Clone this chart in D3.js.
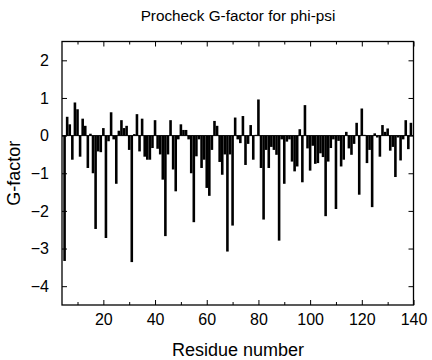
<!DOCTYPE html>
<html>
<head>
<meta charset="utf-8">
<script src="https://cdn.jsdelivr.net/npm/d3@7"></script>
<style>
  html, body { margin: 0; padding: 0; background: #fff; }
  svg { display: block; }
  text { font-family: "Liberation Sans", Arial, Helvetica, sans-serif; fill: #000; }
</style>
</head>
<body>
<svg id="chart" width="432" height="360"></svg>
<script>
// Residue numbers 5..139
const residues = d3.range(5, 140);
// G-factor values (phi-psi), residue 5 onward
const gfactor = [
  -3.33, 0.50, 0.30, -0.64, 0.88, 0.70, -0.56, 0.45, 0.26, -0.86,
  0.05, -1.00, -2.48, -0.42, -0.44, 0.20, -2.72, -0.15, 0.62, -0.10,
  -1.28, 0.13, 0.41, 0.20, 0.26, -0.38, -3.36, 0.04, 0.57, -0.42,
  0.45, -0.56, -0.64, -0.64, -0.33, 0.41, -0.35, -0.50, -1.17, -2.67,
  -0.50, 0.41, -0.90, -1.48, -0.10, 0.30, 0.15, 0.15, -0.10, -1.00,
  -2.30, -0.55, -0.10, -0.86, -0.64, -1.39, -1.60, -0.38, 0.39, 0.26,
  -0.70, -1.04, -0.50, -3.08, -0.50, -2.39, 0.48, -0.10, -0.20, 0.52,
  -0.78, -0.22, 0.28, -0.64, 0.02, 0.96, -0.86, -2.23, -0.38, -0.86,
  -0.30, -0.38, -0.51, -2.79, -0.10, -1.28, -0.16, -0.10, -0.69, -0.95,
  -0.82, 0.17, -1.24, 0.81, -0.34, -0.93, -0.27, -0.75, -0.73, -0.47,
  -0.57, -2.14, -0.69, -0.33, -0.10, -1.95, -0.14, -0.82, -0.64, 0.10,
  -0.34, -0.51, -0.22, 0.34, -1.57, 0.72, 0.02, -0.73, -0.38, -1.90,
  0.06, -0.05, -0.56, 0.28, 0.10, 0.19, -0.40, -0.30, -1.10, -0.05,
  -0.66, -0.10, 0.41, -0.36, 0.34
];
const xMajorTicks = [20, 40, 60, 80, 100, 120, 140];
const xMinorTicks = [10, 30, 50, 70, 90, 110, 130];
const yTicks = [2, 1, 0, -1, -2, -3, -4];

const titleText = "Procheck G-factor for phi-psi";
const xLabel = "Residue number";
const yLabel = "G-factor";

const L = 62, R = 413.5, T = 41.5, B = 305;
const svg = d3.select("#chart");

const x = d3.scaleLinear().domain([4, 140]).range([L, R]);
const y = d3.scaleLinear().domain([-4.5, 2.5]).range([B, T]);

const data = residues.map((r, i) => ({ r, v: gfactor[i] }));

// bars
svg.append("g").selectAll("rect").data(data).join("rect")
  .attr("x", d => x(d.r - 0.5))
  .attr("width", d => x(d.r + 0.5) - x(d.r - 0.5))
  .attr("y", d => y(Math.max(0, d.v)))
  .attr("height", d => Math.abs(y(d.v) - y(0)))
  .attr("fill", "#000");

// zero line
svg.append("line")
  .attr("x1", L).attr("x2", R)
  .attr("y1", y(0)).attr("y2", y(0))
  .attr("stroke", "#000").attr("stroke-width", 1);

// axes (ticks pointing inward, mirrored)
const gBottom = svg.append("g").attr("transform", `translate(0,${B})`)
  .call(d3.axisBottom(x).tickValues(xMajorTicks).tickSize(-5).tickPadding(9).tickFormat(d3.format("d")));
const gBottomMinor = svg.append("g").attr("transform", `translate(0,${B})`)
  .call(d3.axisBottom(x).tickValues(xMinorTicks).tickSize(-3).tickFormat(""));
const gTop = svg.append("g").attr("transform", `translate(0,${T})`)
  .call(d3.axisTop(x).tickValues(xMajorTicks).tickSize(-5).tickFormat(""));
const gTopMinor = svg.append("g").attr("transform", `translate(0,${T})`)
  .call(d3.axisTop(x).tickValues(xMinorTicks).tickSize(-3).tickFormat(""));
const gLeft = svg.append("g").attr("transform", `translate(${L},0)`)
  .call(d3.axisLeft(y).tickValues(yTicks).tickSize(-5).tickPadding(13).tickFormat(d3.format("d")));
const gRight = svg.append("g").attr("transform", `translate(${R},0)`)
  .call(d3.axisRight(y).tickValues(yTicks).tickSize(-5).tickFormat(""));

svg.selectAll(".domain").remove();
svg.selectAll(".tick line").attr("stroke", "#000").attr("stroke-width", 1);
svg.selectAll(".tick text").attr("font-size", 16)
  .style("font-family", "'Liberation Sans', Arial, sans-serif").attr("fill", "#000");

// frame
svg.append("rect")
  .attr("x", L).attr("y", T).attr("width", R - L).attr("height", B - T)
  .attr("fill", "none").attr("stroke", "#000").attr("stroke-width", 1.3);

// title & labels
svg.append("text").attr("x", 238).attr("y", 21).attr("text-anchor", "middle")
  .attr("font-size", 15.3).text(titleText);
svg.append("text").attr("x", 238).attr("y", 356).attr("text-anchor", "middle")
  .attr("font-size", 18).text(xLabel);
svg.append("text").attr("transform", `translate(20,${(T + B) / 2}) rotate(-90)`)
  .attr("text-anchor", "middle").attr("font-size", 18).text(yLabel);
</script>
</body>
</html>
